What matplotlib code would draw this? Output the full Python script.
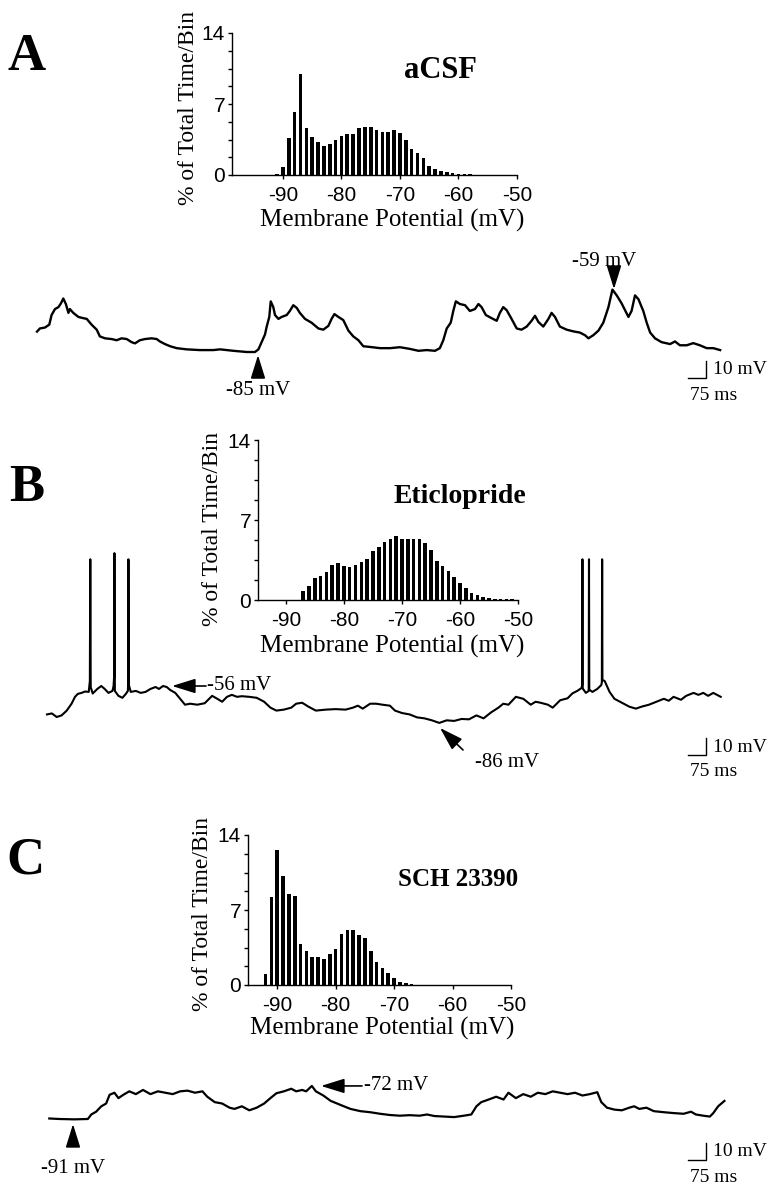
import matplotlib
matplotlib.use("Agg")
import matplotlib.pyplot as plt
from matplotlib.ticker import MultipleLocator

plt.rcParams["axes.unicode_minus"] = False

# ---- histogram data (% of total time per 1 mV bin) ----
bins_a = list(range(-91, -57))
pct_a = [0.14, 0.8, 3.6, 6.2, 10.0, 4.6, 3.7, 3.3, 2.85, 3.05, 3.45, 3.8, 4.0, 4.0,
         4.6, 4.7, 4.7, 4.4, 4.2, 4.2, 4.4, 4.1, 3.45, 2.6, 2.2, 1.7, 0.9, 0.6, 0.35,
         0.25, 0.15, 0.1, 0.08, 0.08]

bins_b = list(range(-87, -50))
pct_b = [0.77, 1.2, 1.95, 2.1, 2.45, 3.07, 3.2, 3.0, 2.85, 3.07, 3.3, 3.55, 4.3, 4.6,
         5.05, 5.3, 5.6, 5.3, 5.3, 5.3, 5.3, 4.95, 4.4, 3.4, 3.0, 2.55, 2.05, 1.5, 1.05,
         0.6, 0.47, 0.27, 0.18, 0.12, 0.1, 0.1, 0.1]

bins_c = list(range(-92, -66))
pct_c = [1.0, 8.25, 12.6, 10.15, 8.45, 8.3, 3.85, 3.15, 2.6, 2.6, 2.45, 2.9, 3.4, 4.75,
         5.15, 5.1, 4.7, 4.35, 3.15, 2.15, 1.6, 1.1, 0.7, 0.3, 0.15, 0.07]

# ---- membrane potential traces (time ms, potential mV) ----
t_a = [0, 10, 28, 43, 51, 63, 75, 84, 92, 101, 110, 115, 127, 145, 162, 174, 191, 209,
       220, 238, 261, 279, 296, 314, 331, 343, 360, 378, 401, 419, 430, 448, 466, 489,
       524, 570, 617, 641, 687, 734, 763, 775, 786, 798, 804, 813, 818, 827, 833, 845,
       856, 874, 885, 897, 909, 920, 938, 961, 985, 1002, 1020, 1031, 1041, 1055, 1072,
       1090, 1107, 1125, 1142, 1166, 1201, 1236, 1270, 1305, 1335, 1364, 1393, 1410,
       1422, 1434, 1448, 1457, 1466, 1480, 1498, 1515, 1533, 1545, 1556, 1571, 1591,
       1609, 1620, 1632, 1644, 1661, 1679, 1696, 1714, 1731, 1743, 1755, 1772, 1790,
       1801, 1813, 1830, 1854, 1877, 1900, 1918, 1930, 1947, 1965, 1982, 2000, 2014,
       2029, 2046, 2070, 2081, 2093, 2105, 2122, 2134, 2146, 2163, 2186, 2216, 2233,
       2250, 2274, 2297, 2320, 2344, 2367, 2391]
v_a = [-76.5, -75.2, -74.8, -73.6, -69.6, -67.1, -66.3, -64.7, -62.7, -65.0, -68.7,
       -67.1, -68.7, -70.4, -70.9, -71.2, -73.6, -75.7, -78.5, -79.3, -79.6, -80.1,
       -79.3, -79.6, -80.9, -81.4, -80.1, -79.6, -79.3, -79.6, -80.6, -81.7, -82.6,
       -83.4, -83.9, -84.2, -84.2, -83.9, -84.5, -85.0, -85.0, -83.9, -80.9, -77.7,
       -74.4, -70.4, -63.9, -66.3, -69.6, -71.2, -70.4, -69.6, -67.9, -65.5, -66.6,
       -68.7, -71.2, -72.8, -75.2, -75.7, -74.1, -71.2, -69.2, -70.4, -71.7, -76.1,
       -78.5, -80.1, -82.6, -82.9, -83.4, -83.4, -83.0, -83.7, -84.5, -84.2, -84.5,
       -83.4, -80.1, -75.2, -72.8, -67.9, -63.9, -65.0, -65.5, -67.9, -67.1, -65.0,
       -66.3, -69.6, -70.9, -72.0, -68.7, -66.3, -67.6, -71.2, -75.2, -75.7, -74.4,
       -72.0, -69.9, -72.5, -74.4, -71.2, -68.7, -70.4, -74.4, -75.7, -76.4, -76.9,
       -78.0, -79.3, -78.0, -76.1, -72.8, -66.3, -59.0, -61.4, -64.7, -70.4, -67.9,
       -61.4, -63.0, -67.9, -72.8, -76.9, -79.3, -80.9, -81.7, -80.6, -82.2, -82.2,
       -81.3, -82.2, -83.4, -83.4, -84.2]

t_b = [35, 52, 69, 86, 104, 121, 133, 143, 156, 168, 181, 185, 186.5, 188, 195, 211,
       225, 237, 250, 264, 268, 270, 271, 272.5, 285, 299, 311, 318, 319, 320, 321.5,
       328, 346, 363, 380, 397, 415, 427, 441, 454, 466, 484, 501, 518, 536, 561, 587,
       613, 631, 648, 665, 682, 700, 717, 743, 769, 795, 817, 838, 864, 890, 907, 928,
       950, 976, 1011, 1045, 1080, 1106, 1123, 1140, 1166, 1187, 1209, 1235, 1253, 1278,
       1304, 1330, 1356, 1382, 1408, 1434, 1460, 1486, 1512, 1538, 1563, 1589, 1615,
       1632, 1650, 1676, 1702, 1728, 1745, 1762, 1788, 1805, 1831, 1857, 1874, 1891,
       1906, 1908, 1909, 1910, 1921, 1931, 1932, 1933, 1944, 1961, 1975, 1977, 1978,
       1979, 1987, 2004, 2021, 2047, 2073, 2096, 2116, 2142, 2168, 2194, 2211, 2228,
       2254, 2272, 2298, 2315, 2332, 2349, 2367, 2393]
v_b = [-79.1, -78.3, -81.2, -79.9, -76.0, -70.4, -64.8, -62.4, -61.6, -60.5, -60.8,
       -52.0, 47.0, -57.0, -62.1, -58.4, -56.0, -58.4, -61.6, -60.0, -56.0, -48.0, 52.0,
       -60.0, -64.0, -65.6, -62.4, -60.0, -54.0, 47.0, -55.0, -60.8, -60.0, -61.6,
       -60.8, -58.4, -56.8, -58.4, -56.0, -56.8, -59.2, -61.6, -66.4, -71.2, -70.4,
       -71.2, -70.0, -64.0, -66.4, -68.8, -64.8, -63.2, -64.8, -64.3, -64.8, -65.6,
       -68.8, -73.6, -76.0, -75.2, -73.6, -70.4, -69.6, -72.8, -76.0, -75.2, -74.8,
       -75.2, -73.6, -72.0, -74.4, -70.4, -70.4, -71.2, -72.0, -76.0, -78.0, -79.1,
       -81.5, -82.3, -83.9, -86.0, -83.9, -84.4, -82.8, -83.1, -79.9, -82.3, -77.5,
       -73.6, -70.4, -71.2, -64.8, -66.4, -71.2, -68.8, -69.6, -71.2, -73.6, -67.6,
       -66.0, -62.0, -60.0, -57.6, -55.0, 47.0, -58.0, -61.6, -60.0, 47.0, -59.0, -60.8,
       -58.4, -55.2, -53.0, 47.0, -51.0, -52.0, -60.8, -66.4, -69.6, -72.8, -74.4,
       -72.8, -71.2, -68.8, -66.4, -68.0, -64.8, -67.2, -64.0, -61.6, -63.2, -61.6,
       -64.0, -61.6, -64.8]

t_c = [43, 78, 130, 178, 190, 207, 225, 242, 254, 271, 285, 302, 323, 346, 371, 397,
       423, 449, 475, 501, 527, 553, 579, 596, 622, 648, 674, 691, 717, 743, 769, 795,
       817, 838, 864, 890, 907, 928, 942, 962, 976, 1002, 1028, 1062, 1097, 1132, 1166,
       1201, 1235, 1270, 1304, 1339, 1365, 1391, 1425, 1460, 1494, 1520, 1538, 1555,
       1581, 1607, 1633, 1650, 1676, 1702, 1728, 1753, 1779, 1805, 1831, 1857, 1883,
       1909, 1935, 1961, 1975, 1995, 2021, 2047, 2073, 2090, 2108, 2133, 2159, 2194,
       2228, 2263, 2289, 2306, 2332, 2355, 2367, 2384, 2406]
v_c = [-90.7, -91.0, -91.2, -91.0, -88.4, -86.8, -83.7, -82.1, -77.1, -75.9, -79.0,
       -77.1, -75.1, -76.7, -74.3, -76.7, -75.1, -75.9, -76.7, -75.1, -74.7, -75.9,
       -75.1, -78.2, -81.3, -82.1, -84.5, -85.2, -83.7, -86.0, -84.5, -82.1, -79.0,
       -76.2, -75.1, -73.6, -75.1, -74.3, -75.1, -72.0, -75.1, -77.5, -80.6, -82.9,
       -85.2, -86.5, -87.1, -88.0, -88.7, -89.1, -88.8, -89.1, -88.4, -89.3, -89.6,
       -89.9, -89.1, -88.4, -83.7, -81.3, -79.8, -78.2, -79.8, -75.9, -79.0, -76.7,
       -78.2, -75.9, -76.7, -75.1, -75.9, -76.7, -75.9, -77.5, -76.7, -75.6, -81.3,
       -84.5, -85.6, -86.0, -84.5, -83.7, -85.2, -84.5, -86.5, -87.1, -87.6, -88.0,
       -86.8, -88.4, -89.1, -89.6, -87.6, -83.7, -80.6]

W, H = 774, 1199
MS_PER_PX = 3.5      # time scale of the traces
X0 = 37              # pixel where t = 0

serif = ["Liberation Serif", "DejaVu Serif"]
sans = ["Liberation Sans", "DejaVu Sans"]

fig = plt.figure(figsize=(W / 100, H / 100), dpi=100)


def box(left, top, right, bottom):
    return [left / W, 1 - bottom / H, (right - left) / W, (bottom - top) / H]


def histogram(rect, xmin, bins, pct, title, title_xy, ylab_xy, xlab_xy):
    left, top, right, bottom = rect
    ax = fig.add_axes(box(*rect))
    ax.bar(bins, pct, width=0.62, color="black", align="center")
    ax.set_xlim(xmin, -50)
    ax.set_ylim(0, 14)
    for s in ("top", "right"):
        ax.spines[s].set_visible(False)
    for s in ("left", "bottom"):
        ax.spines[s].set_linewidth(1.0)
    ax.set_xticks([-90, -80, -70, -60, -50])
    ax.set_yticks([0, 7, 14])
    ax.yaxis.set_minor_locator(MultipleLocator(1.75))
    ax.tick_params(axis="x", which="major", length=3, width=1.0, pad=5, labelsize=15)
    ax.tick_params(axis="y", which="major", length=3, width=1.0, pad=2, labelsize=15)
    ax.tick_params(axis="y", which="minor", length=3, width=1.0)
    for lab in ax.get_xticklabels() + ax.get_yticklabels():
        lab.set_family(sans)
    ax.set_xlabel("Membrane Potential (mV)", family=serif, fontsize=18)
    ax.set_ylabel("% of Total Time/Bin", family=serif, fontsize=17)
    ax.xaxis.set_label_coords((xlab_xy[0] - left) / (right - left),
                              (bottom - xlab_xy[1]) / (bottom - top))
    ax.xaxis.label.set_va("center")
    ax.yaxis.set_label_coords((ylab_xy[0] - left) / (right - left),
                              (bottom - ylab_xy[1]) / (bottom - top))
    ax.yaxis.label.set_va("center")
    fig.text(title_xy[0] / W, 1 - title_xy[1] / H, title[0], family=serif,
             fontweight="bold", fontsize=title[1], ha="center", va="center")
    return ax


histogram((232, 33, 517, 175), -98.7, bins_a, pct_a, ("aCSF", 22),
          (440, 70), (188, 108), (392, 220))
histogram((258, 440, 518, 600), -94.8, bins_b, pct_b, ("Eticlopride", 20),
          (460, 497), (213, 529), (392, 646))
histogram((248, 835, 511, 985), -95.0, bins_c, pct_c, ("SCH 23390", 18),
          (458, 880), (203, 914), (382, 1028))


def trace_axes(top, bottom, v_ref, y_ref, px_per_mv):
    ax = fig.add_axes(box(0, top, W, bottom))
    ax.set_xlim(-X0 * MS_PER_PX, (W - X0) * MS_PER_PX)
    ax.set_ylim(v_ref - (bottom - y_ref) / px_per_mv, v_ref + (y_ref - top) / px_per_mv)
    ax.patch.set_alpha(0)
    ax.axis("off")
    return ax


def arrow(ax, tail, tip):
    ax.annotate("", xy=tip, xytext=tail,
                arrowprops=dict(arrowstyle="-|>,head_length=0.9,head_width=0.28",
                                color="black", lw=1.2, shrinkA=0, shrinkB=0,
                                mutation_scale=16))


def t_at(px):
    return (px - X0) * MS_PER_PX


# Panel A trace (-85 mV sits at y = 352 px)
ax_a = trace_axes(230, 420, -85, 352, 2.4)
ax_a.plot(t_a, v_a, color="black", lw=1.7)
arrow(ax_a, (t_at(614), -51.7), (t_at(614), -58.8))
ax_a.text(t_at(604), -47.3, "-59 mV", family=serif, fontsize=15, ha="center", va="center")
arrow(ax_a, (t_at(258), -92.0), (t_at(258), -86.3))
ax_a.text(t_at(258), -101.0, "-85 mV", family=serif, fontsize=15, ha="center", va="center")

# Panel B trace (-56 mV sits at y = 686 px)
ax_b = trace_axes(520, 800, -56, 686, 1.23)
ax_b.plot(t_b, v_b, color="black", lw=1.5)
arrow(ax_b, (t_at(206), -56), (t_at(172), -56))
ax_b.text(t_at(207), -56, "-56 mV", family=serif, fontsize=15, ha="left", va="center")
arrow(ax_b, (t_at(463), -108), (t_at(440), -90.1))
ax_b.text(t_at(507), -117.8, "-86 mV", family=serif, fontsize=15, ha="center", va="center")

# Panel C trace (-91 mV sits at y = 1119 px)
ax_c = trace_axes(1040, 1199, -91, 1119, 1.74)
ax_c.plot(t_c, v_c, color="black", lw=1.6)
arrow(ax_c, (t_at(73), -106), (t_at(73), -93.9))
ax_c.text(t_at(73), -119.2, "-91 mV", family=serif, fontsize=15, ha="center", va="center")
arrow(ax_c, (t_at(362), -72), (t_at(321), -72))
ax_c.text(t_at(364), -72, "-72 mV", family=serif, fontsize=15, ha="left", va="center")

# scale bars (10 mV / 75 ms), drawn in pixel space on an overlay
ov = fig.add_axes([0, 0, 1, 1])
ov.set_xlim(0, W)
ov.set_ylim(H, 0)
ov.patch.set_alpha(0)
ov.axis("off")
for y_bot in (378, 755, 1160):
    ov.plot([688, 706, 706], [y_bot, y_bot, y_bot - 17], color="black", lw=1.0,
            solid_joinstyle="miter")
    ov.text(713, y_bot - 8, "10 mV", family=serif, fontsize=14, ha="left", va="center")
    ov.text(690, y_bot + 17, "75 ms", family=serif, fontsize=14, ha="left", va="center")

# panel letters
for letter, (x, y) in zip("ABC", [(27, 57), (27, 488), (25, 860)]):
    ov.text(x, y, letter, family=serif, fontweight="bold", fontsize=38,
            ha="center", va="center")

fig.savefig("out.png", dpi=100)
